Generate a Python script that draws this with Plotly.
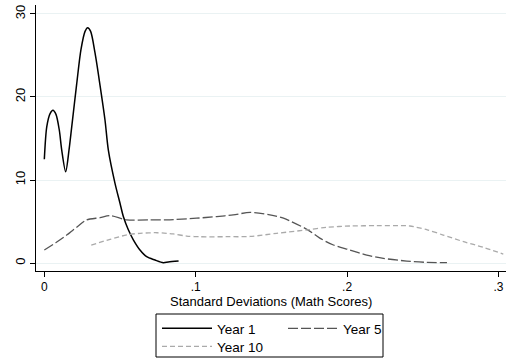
import plotly.graph_objects as go

# Data (kernel density estimates)
year1_x = [0.0, 0.0016, 0.0038, 0.0057, 0.0077, 0.0099, 0.0115, 0.0141, 0.0163, 0.0181, 0.0214,
           0.0242, 0.0269, 0.0286, 0.0306, 0.0335, 0.0368, 0.0401, 0.0423, 0.0467, 0.05, 0.0522,
           0.0555, 0.0588, 0.0632, 0.0676, 0.0731, 0.0786, 0.0819, 0.0887]
year1_y = [12.5, 16.4, 18.0, 18.4, 17.9, 16.0, 13.6, 11.0, 13.6, 16.4, 21.6,
           25.7, 27.9, 28.35, 27.9, 25.3, 21.4, 17.2, 13.6, 9.6, 7.2, 5.6,
           4.0, 2.8, 1.57, 0.76, 0.36, 0.04, 0.12, 0.24]

year5_x = [0.0, 0.008, 0.015, 0.022, 0.028, 0.0368, 0.0434, 0.0544, 0.0698, 0.0809, 0.1006,
           0.1139, 0.1248, 0.136, 0.149, 0.158, 0.174, 0.182, 0.191, 0.202, 0.213, 0.224,
           0.2394, 0.2526, 0.266]
year5_y = [1.57, 2.5, 3.4, 4.4, 5.2, 5.46, 5.7, 5.2, 5.2, 5.2, 5.4,
           5.6, 5.8, 6.1, 5.8, 5.4, 4.0, 3.0, 2.17, 1.57, 0.96, 0.56,
           0.24, 0.08, 0.04]

year10_x = [0.031, 0.0434, 0.0547, 0.0632, 0.0745, 0.0852, 0.094, 0.1028, 0.1204, 0.136,
            0.1535, 0.174, 0.1865, 0.202, 0.2195, 0.2375, 0.2415, 0.253, 0.2635, 0.277, 0.29, 0.3032]
year10_y = [2.17, 2.85, 3.4, 3.58, 3.65, 3.5, 3.25, 3.17, 3.17, 3.2,
            3.58, 4.0, 4.3, 4.46, 4.5, 4.5, 4.46, 4.0, 3.37, 2.57, 1.89, 1.08]

x_ticks = [0, 0.1, 0.2, 0.3]
x_tick_labels = ["0", ".1", ".2", ".3"]
y_ticks = [0, 10, 20, 30]
y_tick_labels = ["0", "10", "20", "30"]
x_title = "Standard Deviations (Math Scores)"

FONT = "Liberation Sans, Arial, Helvetica, sans-serif"

fig = go.Figure()
fig.add_trace(go.Scatter(x=year1_x, y=year1_y, mode="lines", name="Year 1",
                         line=dict(color="black", width=1.5, shape="spline", smoothing=0.8),
                         legend="legend"))
fig.add_trace(go.Scatter(x=year5_x, y=year5_y, mode="lines", name="Year 5",
                         line=dict(color="#555555", width=1.3, dash="10px,3px", shape="spline", smoothing=0.8),
                         legend="legend"))
fig.add_trace(go.Scatter(x=year10_x, y=year10_y, mode="lines", name="Year 10",
                         line=dict(color="#aaaaaa", width=1.3, dash="5px,3px", shape="spline", smoothing=0.8),
                         legend="legend2"))

# legend box
fig.add_shape(type="rect", xref="paper", yref="paper",
              x0=(156 - 36) / 470, x1=(383 - 36) / 470,
              y0=(271 - 357) / 266, y1=(271 - 314) / 266,
              line=dict(color="black", width=1), fillcolor="rgba(0,0,0,0)")

# x axis title
fig.add_annotation(text=x_title, xref="paper", yref="paper", x=0.5, y=(271 - 301) / 266,
                   xanchor="center", yanchor="middle", showarrow=False,
                   font=dict(size=13, family=FONT, color="black"))

fig.update_layout(
    width=506, height=360,
    margin=dict(l=36, r=0, t=5, b=89, autoexpand=False),
    paper_bgcolor="white", plot_bgcolor="white",
    font=dict(family=FONT, size=13, color="black"),
    xaxis=dict(range=[-0.0055, 0.305], tickvals=x_ticks, ticktext=x_tick_labels,
               showgrid=False, zeroline=False, showline=True, linecolor="black", linewidth=1,
               ticks="outside", ticklen=5, tickcolor="black", automargin=False,
               tickfont=dict(size=12)),
    yaxis=dict(range=[-0.96, 31.08], tickvals=y_ticks, ticktext=y_tick_labels, tickangle=-90,
               showgrid=True, gridcolor="#eaf2f3", gridwidth=1, zeroline=False,
               showline=True, linecolor="black", linewidth=1, automargin=False,
               ticks="outside", ticklen=5, tickcolor="black", tickfont=dict(size=13)),
    legend=dict(orientation="h", x=(157 - 36) / 470, xanchor="left",
                y=(271 - 313) / 266, yanchor="top", entrywidth=61, entrywidthmode="pixels",
                itemwidth=50, bgcolor="rgba(0,0,0,0)", font=dict(size=13.5)),
    legend2=dict(orientation="h", x=(157 - 36) / 470, xanchor="left",
                 y=(271 - 331) / 266, yanchor="top", itemwidth=50,
                 bgcolor="rgba(0,0,0,0)", font=dict(size=13.5)),
)

fig.write_html("out.html", config={"displayModeBar": False},
               post_script="document.body.style.margin='0';document.body.style.overflow='hidden';")
